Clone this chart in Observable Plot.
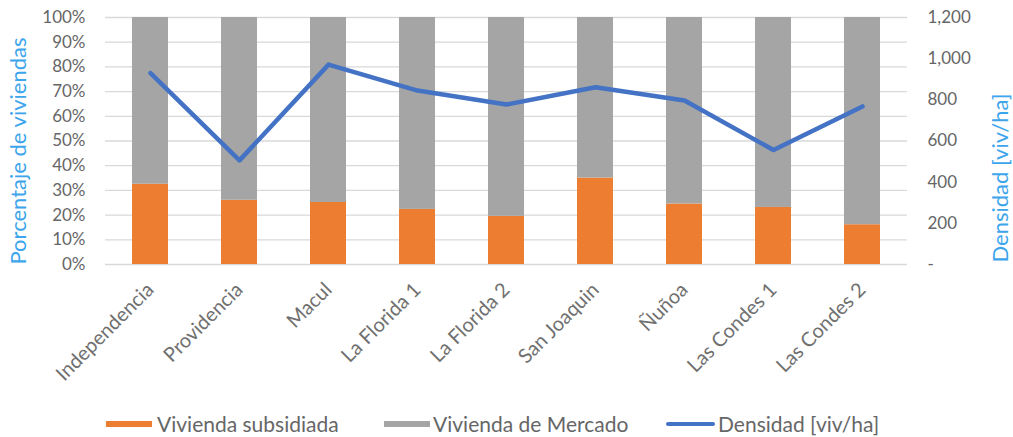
<!DOCTYPE html>
<html><head><meta charset="utf-8">
<script src="https://cdn.jsdelivr.net/npm/d3@7"></script>
<script src="https://cdn.jsdelivr.net/npm/@observablehq/plot@0.6"></script>
<style>
body{margin:0;background:#fff;font-family:Lato, "Open Sans", sans-serif;}
#wrap{position:relative;width:1013px;height:437px;overflow:hidden;background:#fff}
.leg{position:absolute;top:412px;font-size:21px;color:#666;line-height:24px;white-space:nowrap}
.sw{position:absolute}
</style></head><body><div id="wrap"></div>
<script>
const categorias = ["Independencia","Providencia","Macul","La Florida 1","La Florida 2","San Joaquin","Ñuñoa","Las Condes 1","Las Condes 2"];
const viviendaSubsidiada = [32.5, 26, 25.1, 22.3, 19.5, 35, 24.5, 23.1, 16.1];
const viviendaMercado = [67.5, 74, 74.9, 77.7, 80.5, 65, 75.5, 76.9, 83.9];
const densidad = [930, 506, 971, 845, 777, 861, 797, 556, 768];
const ticksPorcentaje = [0,10,20,30,40,50,60,70,80,90,100];
const ticksDensidad = [0,200,400,600,800,1000,1200];
const series = ["Vivienda subsidiada","Vivienda de Mercado","Densidad [viv/ha]"];
const colores = ["#ED7D31","#A5A5A5","#4472C4"];
const densMax = 1200;

const barras = categorias.flatMap((c,i)=>[
  {cat:c, serie:series[0], valor:viviendaSubsidiada[i]},
  {cat:c, serie:series[1], valor:viviendaMercado[i]}
]);
const linea = categorias.map((c,i)=>({cat:c, dens:densidad[i]}));
const gris = "#666666";

const chart = Plot.plot({
  width:1013, height:405,
  marginTop:17, marginBottom:141, marginLeft:105, marginRight:106,
  style:{fontFamily:"Lato, 'Open Sans', sans-serif", background:"#fff"},
  x:{type:"band", domain:categorias, paddingInner:0.6, paddingOuter:0.3},
  y:{domain:[0,100]},
  color:{domain:series.slice(0,2), range:colores.slice(0,2)},
  marks:[
    Plot.gridY(ticksPorcentaje, {stroke:"#D9D9D9", strokeOpacity:1, strokeWidth:1.3}),
    Plot.barY(barras, {x:"cat", y:"valor", fill:"serie", order:series.slice(0,2)}),
    Plot.line(linea, {x:"cat", y:d=>d.dens*100/densMax, stroke:colores[2], strokeWidth:4.5, strokeLinejoin:"round", strokeLinecap:"round"}),
    Plot.axisY(ticksPorcentaje, {anchor:"left", tickSize:0, tickPadding:20, tickFormat:d=>d+"%", fontSize:17, color:gris, label:null}),
    Plot.axisY(ticksDensidad.map(v=>v*100/densMax), {anchor:"right", tickSize:0, tickPadding:20, tickFormat:v=>v===0?"-":d3.format(",")(Math.round(v*densMax/100)), fontSize:17, color:gris, label:null}),
    Plot.axisX({tickRotate:-45, tickSize:0, tickPadding:22, fontSize:20, color:"#707070", label:null}),
    Plot.text(["Porcentaje de viviendas"], {frameAnchor:"left", textAnchor:"middle", dx:-87, dy:10, rotate:-90, fill:"#3DA5EC", fontSize:22}),
    Plot.text(["Densidad [viv/ha]"], {frameAnchor:"right", textAnchor:"middle", dx:93, dy:37, rotate:-90, fill:"#3DA5EC", fontSize:22})
  ]
});
const wrap = document.getElementById("wrap");
wrap.appendChild(chart);

const leyenda = [
  {sw:{left:106,width:46,top:421,height:6}, x:157},
  {sw:{left:384,width:46,top:421,height:6}, x:433},
  {sw:{left:666,width:49,top:422,height:4}, x:718}
];
leyenda.forEach((l,i)=>{
  const s=document.createElement("div");
  s.className="sw";
  Object.assign(s.style,{left:l.sw.left+"px",width:l.sw.width+"px",top:l.sw.top+"px",height:l.sw.height+"px",background:colores[i],borderRadius: i===2?"2px":"0"});
  wrap.appendChild(s);
  const t=document.createElement("div");
  t.className="leg"; t.style.left=l.x+"px"; t.textContent=series[i];
  wrap.appendChild(t);
});
</script></body></html>
